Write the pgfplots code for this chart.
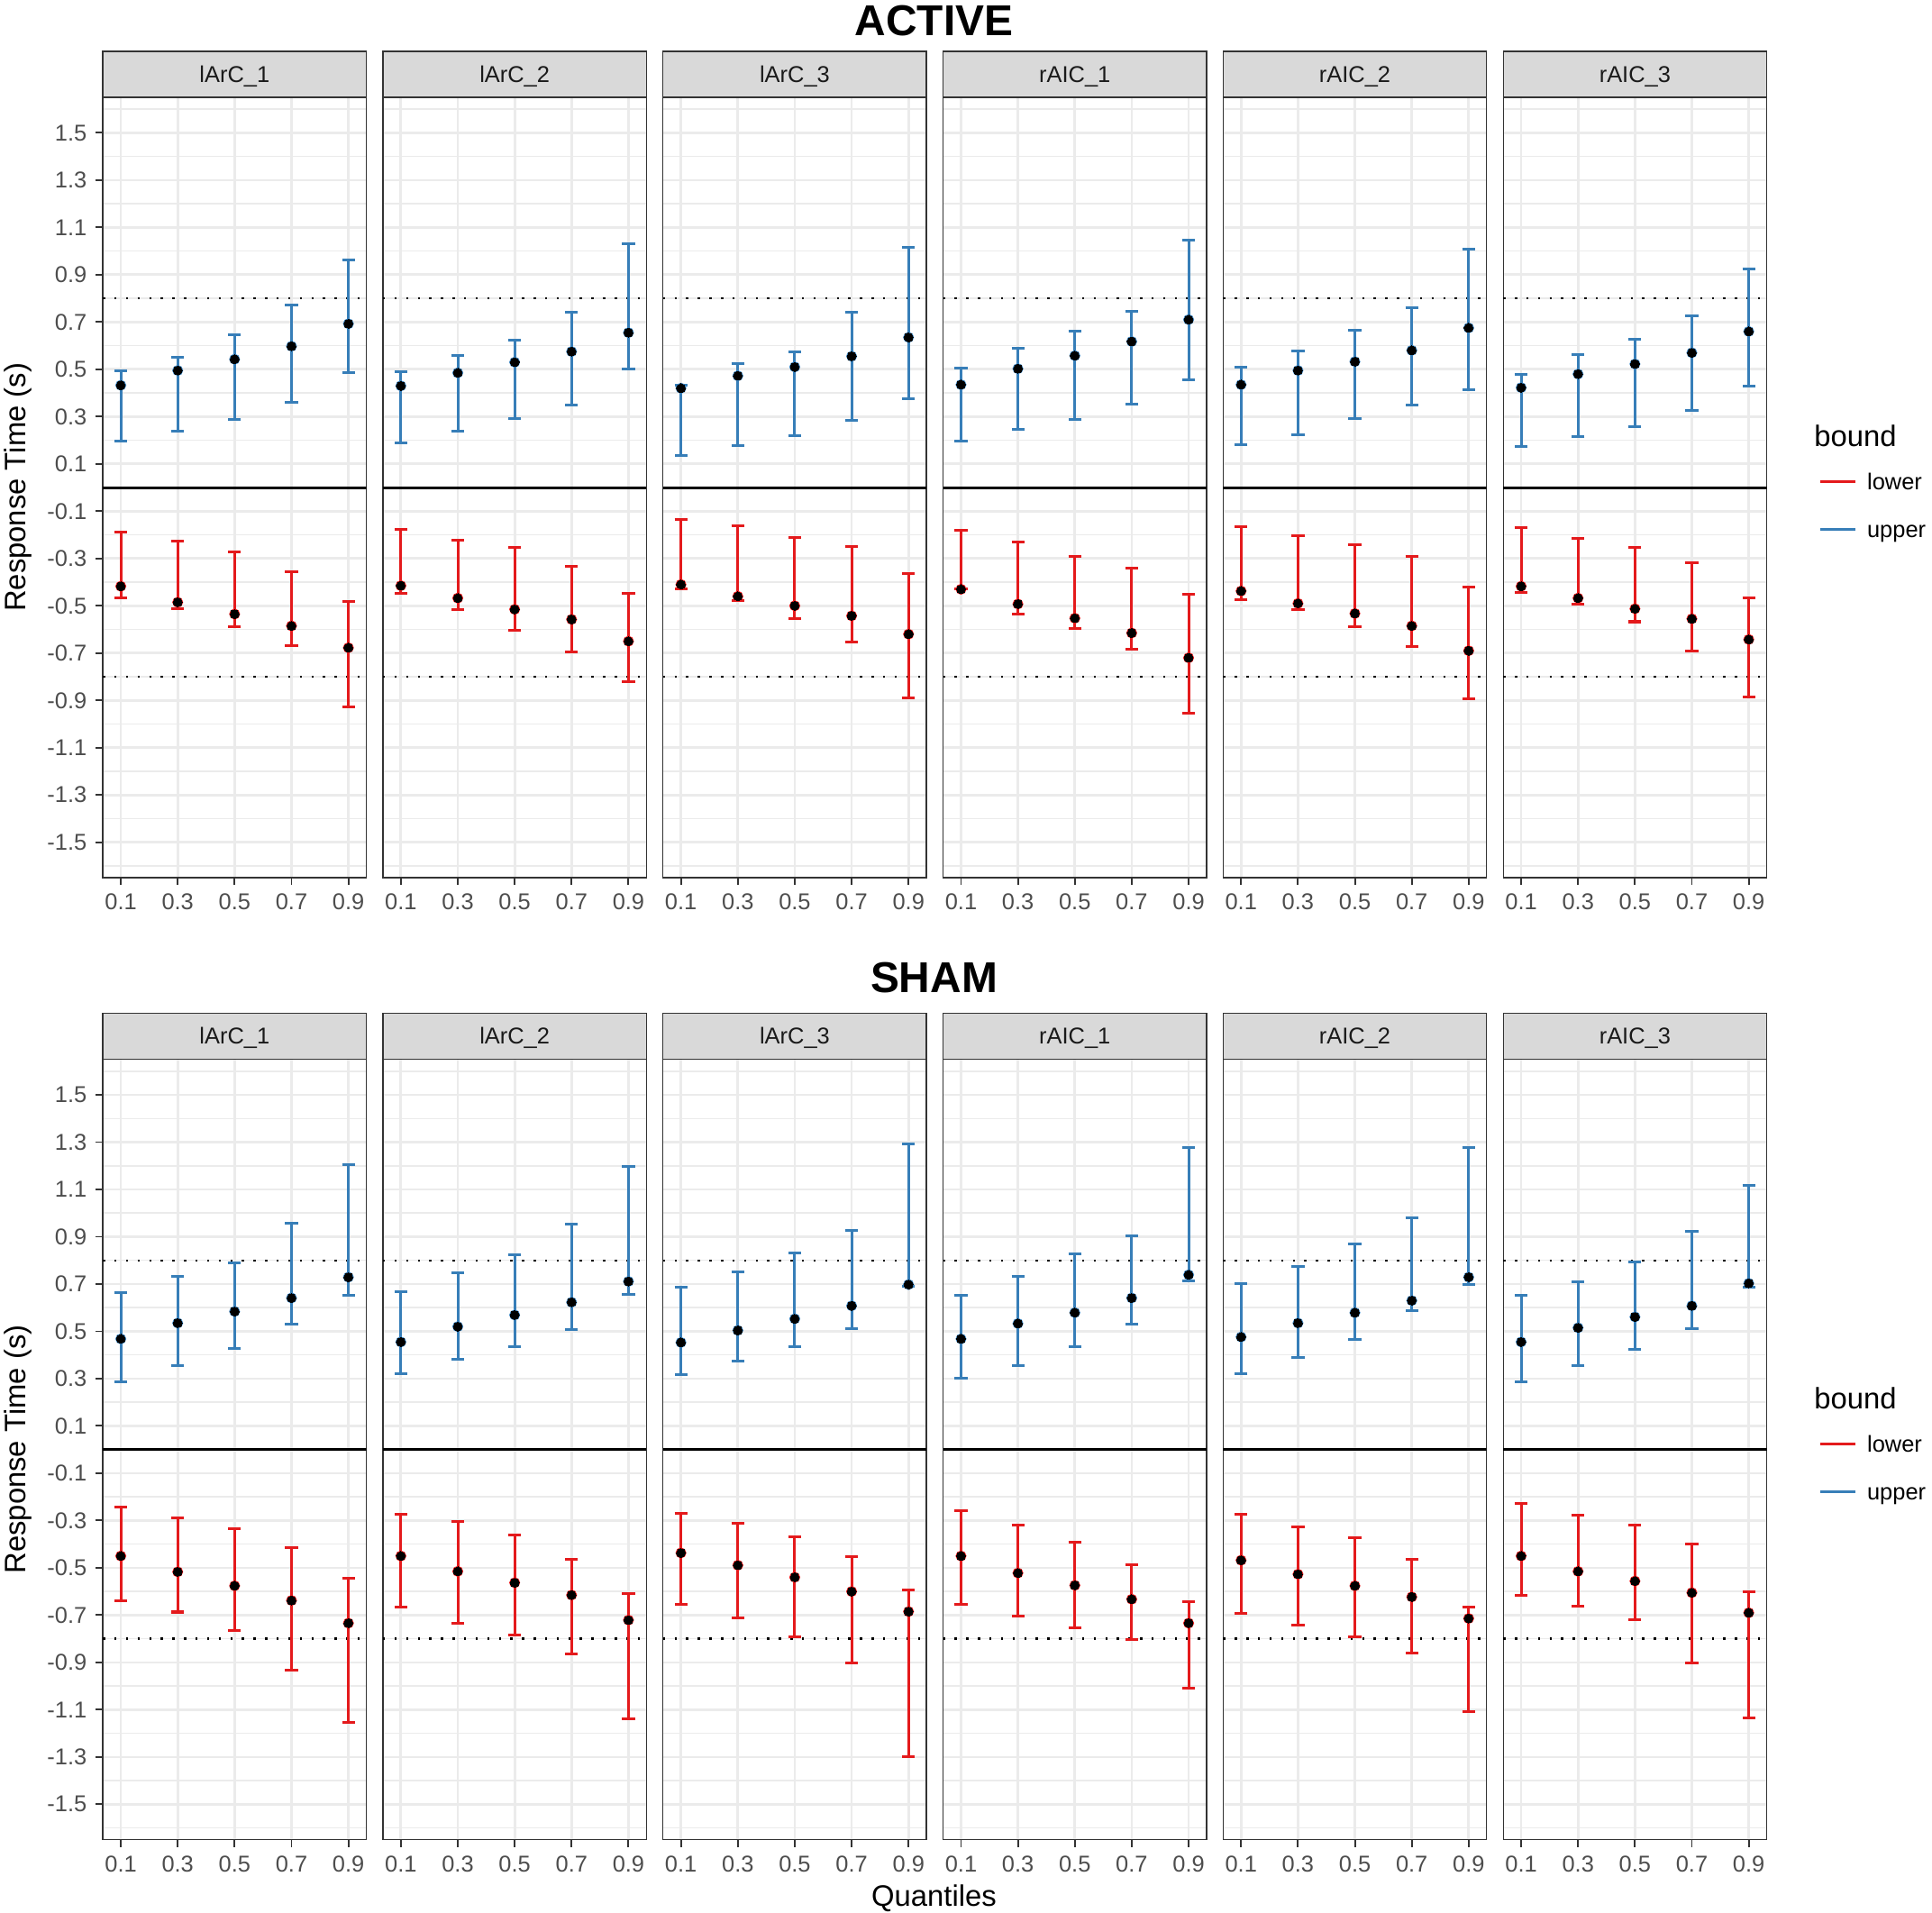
\documentclass[border=0pt]{standalone}
\usepackage{pgfplots}
\usepackage{pgfplotstable}
\pgfplotsset{compat=1.18}
\usepackage{fontspec}
\setmainfont{Liberation Sans}

\definecolor{lowc}{HTML}{E41A1C}
\definecolor{upc}{HTML}{377EB8}
\definecolor{gridc}{HTML}{EBEBEB}
\definecolor{g20}{HTML}{333333}
\definecolor{g30}{HTML}{4D4D4D}
\definecolor{g10}{HTML}{1A1A1A}
\definecolor{stripg}{HTML}{D9D9D9}

% columns: q = quantile, um/ulo/uhi = upper bound mean/low/high, lm/llo/lhi = lower bound mean/low/high
\pgfplotstableread{
q um ulo uhi lm llo lhi
0.1 0.4325 0.1975 0.4925 -0.4175 -0.465 -0.1875
0.3 0.495 0.2375 0.55 -0.485 -0.5125 -0.225
0.5 0.5425 0.2875 0.645 -0.535 -0.59 -0.2725
0.7 0.5975 0.36 0.7725 -0.585 -0.67 -0.355
0.9 0.6925 0.485 0.9625 -0.6775 -0.9275 -0.48
}\tabAa
\pgfplotstableread{
q um ulo uhi lm llo lhi
0.1 0.43 0.19 0.49 -0.415 -0.4475 -0.1775
0.3 0.485 0.24 0.56 -0.4675 -0.5175 -0.2225
0.5 0.53 0.2925 0.6225 -0.515 -0.605 -0.2525
0.7 0.575 0.35 0.7425 -0.5575 -0.695 -0.3325
0.9 0.655 0.5025 1.0325 -0.65 -0.8225 -0.4475
}\tabAb
\pgfplotstableread{
q um ulo uhi lm llo lhi
0.1 0.42 0.135 0.4325 -0.41 -0.43 -0.135
0.3 0.4725 0.1775 0.525 -0.46 -0.4775 -0.1625
0.5 0.51 0.22 0.5725 -0.5 -0.5525 -0.21
0.7 0.555 0.2825 0.74 -0.5425 -0.655 -0.2475
0.9 0.635 0.375 1.015 -0.62 -0.89 -0.365
}\tabAc
\pgfplotstableread{
q um ulo uhi lm llo lhi
0.1 0.435 0.1975 0.505 -0.43 -0.43 -0.18
0.3 0.5025 0.245 0.5875 -0.4925 -0.535 -0.23
0.5 0.5575 0.2875 0.6625 -0.5525 -0.595 -0.2925
0.7 0.6175 0.3525 0.745 -0.615 -0.685 -0.3425
0.9 0.71 0.455 1.0475 -0.72 -0.955 -0.4525
}\tabAd
\pgfplotstableread{
q um ulo uhi lm llo lhi
0.1 0.435 0.18 0.5075 -0.4375 -0.4725 -0.165
0.3 0.495 0.2225 0.5775 -0.49 -0.515 -0.205
0.5 0.5325 0.29 0.665 -0.5325 -0.59 -0.2425
0.7 0.58 0.3475 0.76 -0.585 -0.6725 -0.2925
0.9 0.675 0.415 1.0075 -0.69 -0.895 -0.4225
}\tabAe
\pgfplotstableread{
q um ulo uhi lm llo lhi
0.1 0.4225 0.1725 0.4775 -0.4175 -0.4425 -0.17
0.3 0.48 0.215 0.5625 -0.4675 -0.4925 -0.215
0.5 0.5225 0.2575 0.6275 -0.5125 -0.5675 -0.2525
0.7 0.57 0.325 0.7275 -0.555 -0.6925 -0.3175
0.9 0.66 0.4275 0.9225 -0.6425 -0.8875 -0.465
}\tabAf
\pgfplotstableread{
q um ulo uhi lm llo lhi
0.1 0.468 0.288 0.664 -0.450 -0.641 -0.244
0.3 0.535 0.355 0.734 -0.517 -0.687 -0.288
0.5 0.584 0.429 0.788 -0.576 -0.765 -0.334
0.7 0.641 0.530 0.958 -0.638 -0.932 -0.416
0.9 0.729 0.654 1.206 -0.734 -1.152 -0.543
}\tabSa
\pgfplotstableread{
q um ulo uhi lm llo lhi
0.1 0.455 0.321 0.669 -0.450 -0.667 -0.272
0.3 0.520 0.383 0.747 -0.515 -0.733 -0.305
0.5 0.569 0.437 0.822 -0.563 -0.785 -0.362
0.7 0.623 0.509 0.953 -0.615 -0.865 -0.463
0.9 0.711 0.656 1.198 -0.721 -1.139 -0.610
}\tabSb
\pgfplotstableread{
q um ulo uhi lm llo lhi
0.1 0.453 0.316 0.685 -0.437 -0.654 -0.269
0.3 0.504 0.373 0.752 -0.489 -0.711 -0.313
0.5 0.553 0.437 0.832 -0.540 -0.793 -0.370
0.7 0.608 0.512 0.925 -0.600 -0.904 -0.453
0.9 0.698 0.690 1.294 -0.685 -1.299 -0.592
}\tabSc
\pgfplotstableread{
q um ulo uhi lm llo lhi
0.1 0.468 0.303 0.654 -0.450 -0.656 -0.259
0.3 0.533 0.357 0.734 -0.522 -0.703 -0.321
0.5 0.579 0.437 0.827 -0.574 -0.752 -0.391
0.7 0.641 0.530 0.904 -0.633 -0.804 -0.486
0.9 0.739 0.713 1.278 -0.734 -1.010 -0.644
}\tabSd
\pgfplotstableread{
q um ulo uhi lm llo lhi
0.1 0.476 0.321 0.703 -0.468 -0.693 -0.274
0.3 0.535 0.388 0.773 -0.527 -0.744 -0.326
0.5 0.579 0.466 0.871 -0.576 -0.793 -0.373
0.7 0.630 0.587 0.981 -0.623 -0.860 -0.463
0.9 0.729 0.698 1.276 -0.714 -1.108 -0.667
}\tabSe
\pgfplotstableread{
q um ulo uhi lm llo lhi
0.1 0.455 0.285 0.654 -0.450 -0.618 -0.226
0.3 0.515 0.357 0.711 -0.515 -0.664 -0.277
0.5 0.561 0.422 0.793 -0.556 -0.721 -0.319
0.7 0.608 0.512 0.922 -0.605 -0.901 -0.398
0.9 0.703 0.685 1.118 -0.690 -1.134 -0.602
}\tabSf

\newcommand{\smallfont}{\fontsize{9.3}{11}\selectfont}
\newcommand{\midfont}{\fontsize{12}{14}\selectfont}

\pgfplotsset{
  panel/.style={
    scale only axis, width=106.9pt, height=316.7pt,
    xmin=0.037, xmax=0.963, ymin=-1.65, ymax=1.65,
    xtick={0.1,0.3,0.5,0.7,0.9}, xticklabels={0.1,0.3,0.5,0.7,0.9},
    ytick={-1.5,-1.3,-1.1,-0.9,-0.7,-0.5,-0.3,-0.1,0.1,0.3,0.5,0.7,0.9,1.1,1.3,1.5},
    minor ytick={-1.6,-1.4,-1.2,-1,-0.8,-0.6,-0.4,-0.2,0,0.2,0.4,0.6,0.8,1,1.2,1.4,1.6},
    xmajorgrids, ymajorgrids, yminorgrids,
    major grid style={gridc, line width=1pt},
    minor grid style={gridc, line width=0.55pt},
    axis line style={g20, line width=0.5pt},
    tick pos=left, tick align=outside,
    major tick length=3pt, minor tick length=0pt,
    tick style={g20, line width=0.7pt},
    ticklabel style={font=\smallfont, text=g30},
  },
  firstcol/.style={
    yticklabels={-1.5,-1.3,-1.1,-0.9,-0.7,-0.5,-0.3,-0.1,0.1,0.3,0.5,0.7,0.9,1.1,1.3,1.5},
  },
  othercol/.style={
    yticklabels={}, ytick style={draw=none},
  },
  ebar/.style={
    color=#1, mark=none, only marks,
    error bars/.cd, y dir=both, y explicit,
    error bar style={draw=#1, line width=1.1pt},
    error mark options={draw=#1, rotate=90, mark size=2.6pt, line width=1.1pt},
  },
  refline/.style={black, line width=1.1pt, mark=none},
  dotline/.style={black, line width=0.9pt, dash pattern=on 0.9pt off 3.8pt, mark=none},
}

% #1 name, #2 x, #3 y (top of panel), #4 table, #5 strip label, #6 column style
\newcommand{\panel}[6]{%
  \begin{axis}[panel, #6, name=#1, at={(#2,#3)}, anchor=north west]
    \addplot[refline] coordinates {(0.037,0) (0.963,0)};
    \addplot[dotline] coordinates {(0.037,0.8) (0.963,0.8)};
    \addplot[dotline] coordinates {(0.037,-0.8) (0.963,-0.8)};
    \addplot[ebar=lowc] table[x=q, y=lm,
      y error plus expr=\thisrow{lhi}-\thisrow{lm},
      y error minus expr=\thisrow{lm}-\thisrow{llo}] {#4};
    \addplot[ebar=upc] table[x=q, y=um,
      y error plus expr=\thisrow{uhi}-\thisrow{um},
      y error minus expr=\thisrow{um}-\thisrow{ulo}] {#4};
    \addplot[only marks, mark=*, mark size=1.8pt, mark options={draw=black, fill=black, line width=0pt}]
      table[x=q, y=lm] {#4};
    \addplot[only marks, mark=*, mark size=1.8pt, mark options={draw=black, fill=black, line width=0pt}]
      table[x=q, y=um] {#4};
  \end{axis}
  \draw[g20, line width=0.5pt, fill=stripg] (#1.north west) rectangle ([yshift=18.7pt]#1.north east);
  \node[font=\smallfont, text=g10, anchor=base] at ([yshift=6.1pt]#1.north) {#5};
}

\newcommand{\legendblock}[1]{% #1 y of "bound" centre
  \node[font=\midfont, anchor=west, inner sep=0pt] at (736pt,#1) {bound};
  \draw[lowc, line width=1.1pt] (738.5pt,#1-18.5pt) -- ++(14.5pt,0pt);
  \node[font=\smallfont, anchor=base west, inner sep=0pt] at (757.5pt,#1-21.7pt) {lower};
  \draw[upc, line width=1.1pt] (738.5pt,#1-38pt) -- ++(14.5pt,0pt);
  \node[font=\smallfont, anchor=base west, inner sep=0pt] at (757.5pt,#1-41.2pt) {upper};
}

\begin{document}
\begin{tikzpicture}
  \useasboundingbox (0pt,0pt) rectangle (784pt,-776pt);

  % ACTIVE row
  \panel{a1}{41.75pt}{-39.5pt}{\tabAa}{lArC\_1}{firstcol}
  \panel{a2}{155.4pt}{-39.5pt}{\tabAb}{lArC\_2}{othercol}
  \panel{a3}{269.05pt}{-39.5pt}{\tabAc}{lArC\_3}{othercol}
  \panel{a4}{382.7pt}{-39.5pt}{\tabAd}{rAIC\_1}{othercol}
  \panel{a5}{496.35pt}{-39.5pt}{\tabAe}{rAIC\_2}{othercol}
  \panel{a6}{610pt}{-39.5pt}{\tabAf}{rAIC\_3}{othercol}

  % SHAM row
  \panel{s1}{41.75pt}{-429.9pt}{\tabSa}{lArC\_1}{firstcol}
  \panel{s2}{155.4pt}{-429.9pt}{\tabSb}{lArC\_2}{othercol}
  \panel{s3}{269.05pt}{-429.9pt}{\tabSc}{lArC\_3}{othercol}
  \panel{s4}{382.7pt}{-429.9pt}{\tabSd}{rAIC\_1}{othercol}
  \panel{s5}{496.35pt}{-429.9pt}{\tabSe}{rAIC\_2}{othercol}
  \panel{s6}{610pt}{-429.9pt}{\tabSf}{rAIC\_3}{othercol}

  % titles
  \node[font=\fontsize{17.5}{20}\selectfont\bfseries, inner sep=0pt] at (379pt,-8.55pt) {ACTIVE};
  \node[font=\fontsize{17.5}{20}\selectfont\bfseries, inner sep=0pt] at (379pt,-396.9pt) {SHAM};

  % axis titles
  \node[font=\midfont, rotate=90, inner sep=0pt] at (7.2pt,-197.8pt) {Response Time (s)};
  \node[font=\midfont, rotate=90, inner sep=0pt] at (7.2pt,-588.2pt) {Response Time (s)};
  \node[font=\midfont, anchor=base, inner sep=0pt] at (379pt,-773.5pt) {Quantiles};

  % legends
  \legendblock{-177pt}
  \legendblock{-567.5pt}
\end{tikzpicture}
\end{document}
